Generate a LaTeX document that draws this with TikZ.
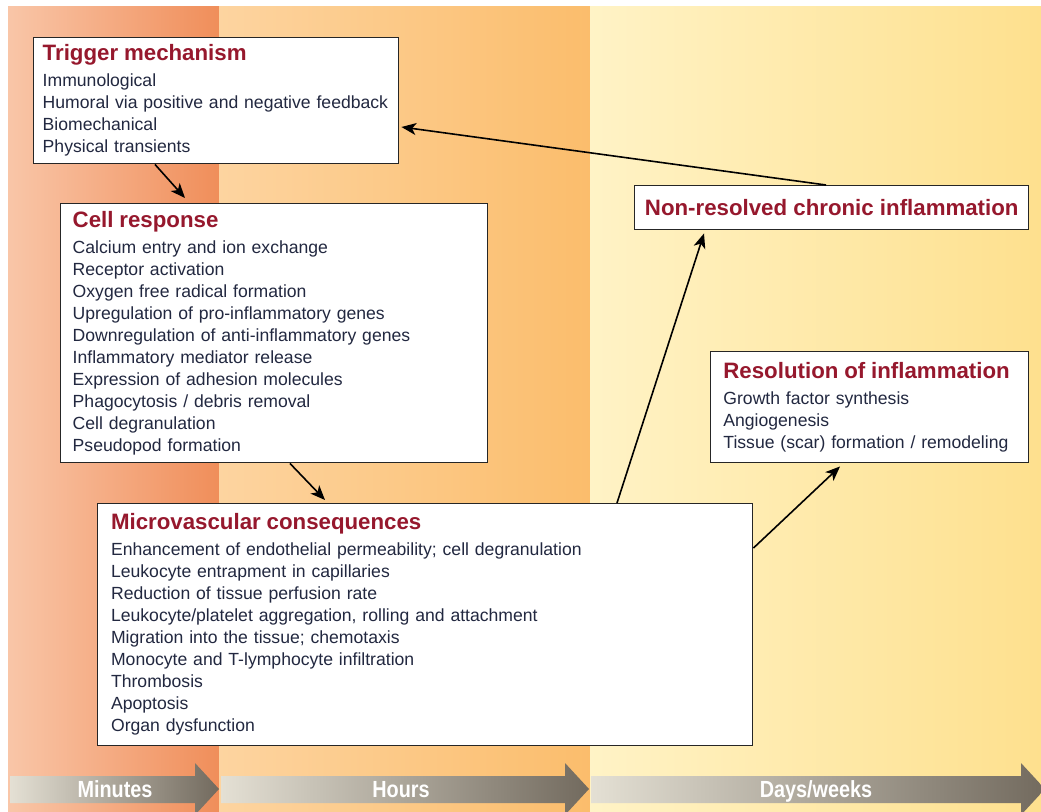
\documentclass[tikz,border=0pt]{standalone}
\usepackage{fontspec}
\usepackage{xcolor}
\usepackage{tikz}
\setmainfont{Liberation Sans}
\newfontfamily\condfont[FakeStretch=0.85]{Liberation Sans}
\usetikzlibrary{arrows.meta,calc}

\definecolor{titlered}{RGB}{150,24,45}
\definecolor{bodyblue}{RGB}{34,40,64}
\definecolor{minA}{RGB}{249,198,168}
\definecolor{minB}{RGB}{240,142,90}
\definecolor{hrsA}{RGB}{253,212,160}
\definecolor{hrsB}{RGB}{251,189,108}
\definecolor{dayA}{RGB}{255,243,198}
\definecolor{dayB}{RGB}{254,224,142}
\definecolor{barA}{RGB}{228,224,212}
\definecolor{barB}{RGB}{114,106,94}

\newcommand{\boxtitle}[1]{{\fontsize{16.7}{19.5}\selectfont\bfseries\color{titlered}#1}}

\begin{document}
\begin{tikzpicture}[x=0.75pt,y=0.75pt,yscale=-1,xscale=1,
  infobox/.style={draw=black!85,line width=1.1pt,fill=white,anchor=north west,align=left,
    inner ysep=2pt,text=bodyblue,font=\fontsize{13.2}{16.5}\selectfont},
  flow/.style={-{Stealth[length=11pt,width=9pt,inset=3pt]},line width=1.2pt},
  timelabel/.style={anchor=base,text=white,font=\condfont\bfseries\fontsize{17.5}{17.5}\selectfont}]
\useasboundingbox (0,0) rectangle (1041,812);
\fill[white] (0,0) rectangle (1041,812);

%Background bands
\shade[left color=minA,right color=minB] (8,7) rectangle (219,812);
\shade[left color=hrsA,right color=hrsB] (219,7) rectangle (590,812);
\shade[left color=dayA,right color=dayB] (590,7) rectangle (1041,812);

%Time arrows
\shade[left color=barA,right color=barB] (10,776) -- (195,776) -- (195,763) -- (219,789) -- (195,815) -- (195,803) -- (10,803) -- cycle;
\shade[left color=barA,right color=barB] (221,776) -- (565,776) -- (565,763) -- (589,789) -- (565,815) -- (565,803) -- (221,803) -- cycle;
\shade[left color=barA,right color=barB] (591,776) -- (1021,776) -- (1021,763) -- (1045,789) -- (1021,815) -- (1021,803) -- (591,803) -- cycle;

% Text Node
\node[timelabel] (minutes) at (115,797) {Minutes};
% Text Node
\node[timelabel] (hours) at (401,797) {Hours};
% Text Node
\node[timelabel] (days) at (816,797) {Days/weeks};

%Trigger box
\node[infobox,inner xsep=6.75pt,text width=260.25pt,minimum height=94.5pt] (trig) at (33,37) {%
\boxtitle{Trigger mechanism}\\[3pt]
Immunological\\
Humoral via positive and negative feedback\\
Biomechanical\\
Physical transients};

%Cell box
\node[infobox,inner xsep=9pt,text width=302.25pt,minimum height=194.25pt] (cell) at (60,203) {%
\boxtitle{Cell response}\\[3pt]
Calcium entry and ion exchange\\
Receptor activation\\
Oxygen free radical formation\\
Upregulation of pro-inflammatory genes\\
Downregulation of anti-inflammatory genes\\
Inflammatory mediator release\\
Expression of adhesion molecules\\
Phagocytosis / debris removal\\
Cell degranulation\\
Pseudopod formation};

%Microvascular box
\node[infobox,inner xsep=10pt,text width=471.25pt,minimum height=181.5pt] (micro) at (97,503) {%
\boxtitle{Microvascular consequences}\\[3pt]
Enhancement of endothelial permeability; cell degranulation\\
Leukocyte entrapment in capillaries\\
Reduction of tissue perfusion rate\\
Leukocyte/platelet aggregation, rolling and attachment\\
Migration into the tissue; chemotaxis\\
Monocyte and T-lymphocyte infiltration\\
Thrombosis\\
Apoptosis\\
Organ dysfunction};

%Chronic box
\node[infobox,align=center,inner xsep=0pt,minimum width=295.5pt,minimum height=33pt] (chronic) at (634,185) {%
\boxtitle{Non-resolved chronic inflammation}};

%Resolution box
\node[infobox,inner xsep=9.5pt,text width=219.5pt,minimum height=83.25pt] (resol) at (710,351) {%
\boxtitle{Resolution of inflammation}\\[3pt]
Growth factor synthesis\\
Angiogenesis\\
Tissue (scar) formation / remodeling};

%Connectors
\draw[flow] ($(trig.south west)+(122,0)$) -- ($(cell.north west)+(125,-5)$);
\draw[flow] ($(cell.south west)+(230,0)$) -- ($(micro.north west)+(228,-3)$);
\draw[flow] ($(micro.north west)+(520,0)$) -- ($(chronic.south west)+(70,3)$);
\draw[flow] ($(micro.north east)+(0,45)$) -- ($(resol.south west)+(130,3)$);
\draw[flow] ($(chronic.north west)+(192,0)$) -- ($(trig.north east)+(2,90)$);

\end{tikzpicture}
\end{document}
